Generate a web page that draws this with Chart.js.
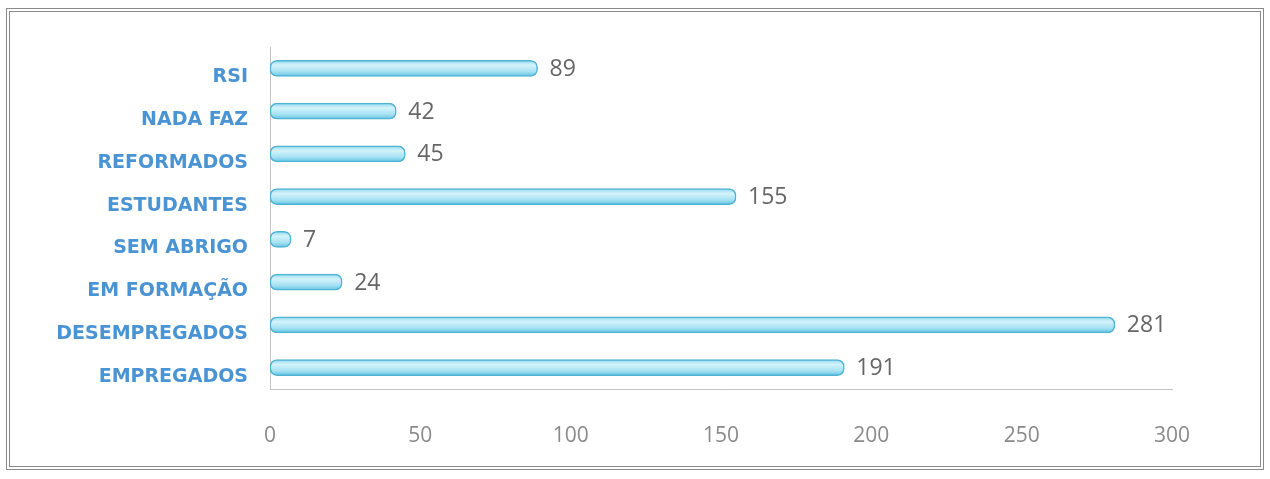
<!DOCTYPE html>
<html>
	<head>
		<meta charset="UTF-8">
		<title>Situação</title>
		<script type="text/javascript" src="https://cdn.jsdelivr.net/npm/chart.js@4/dist/chart.umd.min.js"></script>
		<style type="text/css">
			body{
				margin: 0;
				background: #fff;
			}
			#casca{
				position: relative;
				width: 1270px;
				height: 479px;
			}
			#moldura{
				position: absolute;
				left: 6px;
				top: 8px;
				width: 1250px;
				height: 454px;
				border: 4px double #8a8a8a;
			}
			#grafico{
				position: absolute;
				left: 0;
				top: 0;
			}
		</style>
	</head>
	<body>
		<div id="casca">
			<div id="moldura"></div>
			<canvas id="grafico" width="1270" height="479"></canvas>
		</div>
		<script type="text/javascript">

			var categorias = ["RSI", "NADA FAZ", "REFORMADOS", "ESTUDANTES", "SEM ABRIGO", "EM FORMAÇÃO", "DESEMPREGADOS", "EMPREGADOS"];
			var valores = [89, 42, 45, 155, 7, 24, 281, 191];
			var marcasX = [0, 50, 100, 150, 200, 250, 300];

			// degradê vertical em cada barra (efeito cilindro)
			var degrade = {
				id: "degrade",
				beforeDatasetsDraw: function(chart){
					var c = chart.ctx;
					chart.getDatasetMeta(0).data.forEach(function(barra){
						var g = c.createLinearGradient(0, barra.y - 8, 0, barra.y + 8);
						g.addColorStop(0, "#8fd8ee");
						g.addColorStop(0.3, "#d4f3fb");
						g.addColorStop(0.7, "#a6e2f3");
						g.addColorStop(1, "#62c2df");
						barra.options.backgroundColor = g;
					});
				}
			};

			// escreve o valor à frente de cada barra
			var rotulosValor = {
				id: "rotulosValor",
				afterDatasetsDraw: function(chart){
					var ctx = chart.ctx;
					var meta = chart.getDatasetMeta(0);
					ctx.save();
					ctx.font = "23px 'Open Sans'";
					ctx.fillStyle = "#666666";
					ctx.textAlign = "left";
					ctx.textBaseline = "middle";
					meta.data.forEach(function(barra, i){
						ctx.fillText(valores[i], barra.x + 12, barra.y + 1);
					});
					ctx.restore();
				}
			};

			var ctx = document.getElementById("grafico");
			var grafico = new Chart(ctx, {
				type: "bar",
				data: {
					labels: categorias,
					datasets: [
						{
							data: valores,
							// função => cada barra recebe o seu próprio objeto de opções
							backgroundColor: function(){ return "#ade5f4"; },
							borderColor: "#4fb3d4",
							borderWidth: 1.5,
							borderRadius: 7,
							borderSkipped: false,
							barThickness: 16
						}
					]
				},
				options: {
					indexAxis: "y",
					responsive: false,
					animation: false,
					devicePixelRatio: 1,
					layout: {
						padding: {left: 0, right: 98, top: 47, bottom: 0}
					},
					plugins: {
						legend: {display: false},
						tooltip: {enabled: false}
					},
					scales: {
						x: {
							min: 0,
							max: 300,
							afterFit: function(s){ s.height = 90; },
							afterBuildTicks: function(s){
								s.ticks = marcasX.map(function(v){ return {value: v}; });
							},
							grid: {display: false, drawTicks: false},
							border: {display: true, color: "#c4c4c4", width: 1},
							ticks: {
								padding: 34,
								color: "#8a8a8a",
								font: {family: "'Open Sans'", size: 21}
							}
						},
						y: {
							afterFit: function(s){ s.width = 270; },
							grid: {display: false, drawTicks: false},
							border: {display: true, color: "#c4c4c4", width: 1},
							ticks: {
								padding: 22,
								labelOffset: 9,
								color: "#4a94d4",
								font: {family: "'DejaVu Sans'", size: 19, weight: "bold"}
							}
						}
					}
				},
				plugins: [degrade, rotulosValor]
			});

		</script>
	</body>
</html>
